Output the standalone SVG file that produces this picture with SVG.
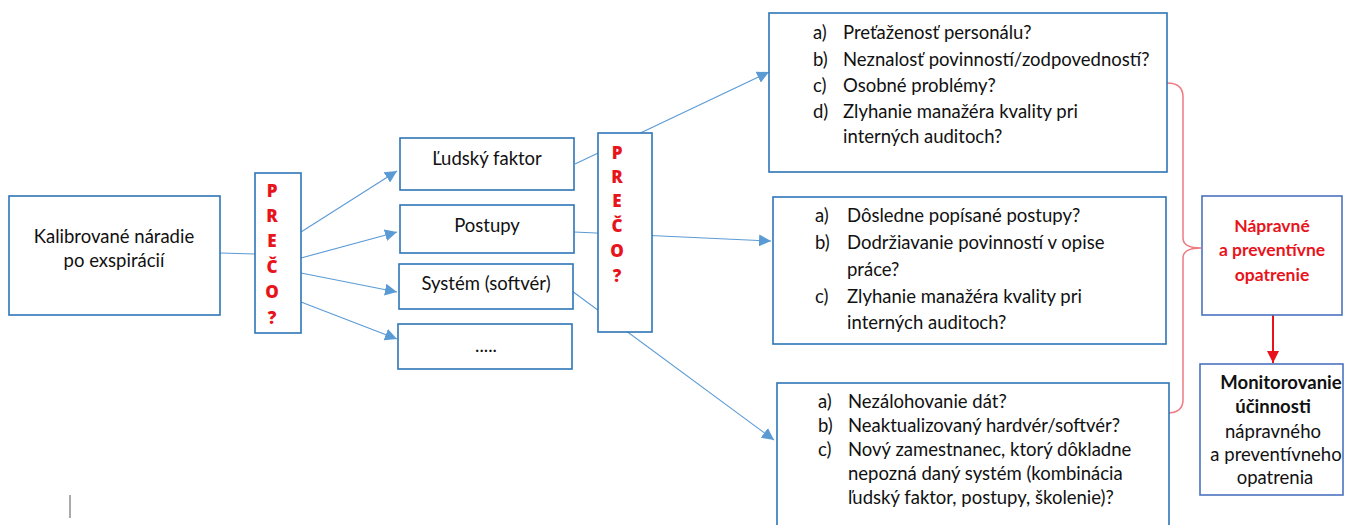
<svg xmlns="http://www.w3.org/2000/svg" width="1355" height="525" viewBox="0 0 1355 525">
<defs>
<style>
.box{fill:#fff;stroke:#2e75b6;stroke-width:1.6}
.box2{fill:#fff;stroke:#4a72c0;stroke-width:1.6}
.t{font-family:Lato,"Liberation Sans",sans-serif;font-size:18.5px;fill:#111}
.c{text-anchor:middle}
.why{font-family:"Open Sans","Liberation Sans",sans-serif;font-size:17px;font-weight:800;fill:#e8141c;text-anchor:middle}
.red{font-family:Lato,"Liberation Sans",sans-serif;font-size:17.5px;font-weight:bold;fill:#e8141c;text-anchor:middle}
.bk{font-weight:bold}
.con{stroke:#5b9bd5;stroke-width:1.1;fill:none}
</style>
<marker id="ab" viewBox="0 0 10 10" refX="10" refY="5" markerWidth="12" markerHeight="12" markerUnits="userSpaceOnUse" orient="auto"><path d="M0,0 L10,5 L0,10 z" fill="#5b9bd5"/></marker>
<marker id="ar" viewBox="0 0 10 10" refX="10" refY="5" markerWidth="12" markerHeight="12" markerUnits="userSpaceOnUse" orient="auto"><path d="M0,0 L10,5 L0,10 z" fill="#e8141c"/></marker>
</defs>
<g id="connectors">
<line class="con" x1="220" y1="253" x2="255" y2="254"/>
<line class="con" x1="301" y1="232" x2="397" y2="171" marker-end="url(#ab)"/>
<line class="con" x1="301" y1="258" x2="397" y2="232" marker-end="url(#ab)"/>
<line class="con" x1="301" y1="273" x2="397" y2="292" marker-end="url(#ab)"/>
<line class="con" x1="301" y1="302" x2="397" y2="339" marker-end="url(#ab)"/>
<line class="con" x1="575" y1="164" x2="769" y2="72" marker-end="url(#ab)"/>
<line class="con" x1="574" y1="232" x2="771" y2="241" marker-end="url(#ab)"/>
<line class="con" x1="572" y1="291" x2="774" y2="440" marker-end="url(#ab)"/>
<path d="M1167,83 Q1183,83 1183,97 L1183,238 Q1183,248 1201,248 Q1183,248 1183,258 L1183,400 Q1183,413 1167,413" fill="none" stroke="#ee7a80" stroke-width="1.5"/>
<line x1="1273" y1="315" x2="1273" y2="363" stroke="#e8141c" stroke-width="2" marker-end="url(#ar)"/>
</g>
<g id="n-start"><rect class="box" x="9" y="196" width="211" height="119"/>
<text class="t c" x="114" y="243">Kalibrované náradie</text>
<text class="t c" x="114" y="267">po exspirácií</text></g>
<g id="n-why1"><rect class="box" x="255" y="173" width="46" height="160"/>
<text class="why" x="272" y="197">P</text><text class="why" x="272" y="222">R</text><text class="why" x="272" y="247">E</text><text class="why" x="272" y="273">Č</text><text class="why" x="272" y="298">O</text><text class="why" x="272" y="324">?</text></g>
<g id="n-human"><rect class="box" x="400" y="138" width="174" height="52"/><text class="t c" x="487" y="165">Ľudský faktor</text></g>
<g id="n-proc"><rect class="box" x="400" y="205" width="174" height="48"/><text class="t c" x="487" y="232">Postupy</text></g>
<g id="n-sys"><rect class="box" x="399" y="264" width="174" height="45"/><text class="t c" x="486" y="290">Systém (softvér)</text></g>
<g id="n-etc"><rect class="box" x="398" y="324" width="174" height="45"/><text class="t c" x="486" y="352">.....</text></g>
<g id="n-why2"><rect class="box" x="598" y="133" width="54" height="199"/>
<text class="why" x="617" y="159">P</text><text class="why" x="617" y="183">R</text><text class="why" x="617" y="207">E</text><text class="why" x="617" y="232">Č</text><text class="why" x="617" y="257">O</text><text class="why" x="617" y="282">?</text></g>
<g id="n-a"><rect class="box" x="769" y="13" width="398" height="159"/>
<text class="t" x="813" y="39">a)</text><text class="t" x="843" y="39">Preťaženosť personálu?</text>
<text class="t" x="813" y="66">b)</text><text class="t" x="843" y="66">Neznalosť povinností/zodpovedností?</text>
<text class="t" x="813" y="92">c)</text><text class="t" x="843" y="92">Osobné problémy?</text>
<text class="t" x="813" y="118">d)</text><text class="t" x="843" y="118">Zlyhanie manažéra kvality pri</text>
<text class="t" x="843" y="143">interných auditoch?</text></g>
<g id="n-b"><rect class="box" x="773" y="197" width="393" height="147"/>
<text class="t" x="815" y="222">a)</text><text class="t" x="847" y="222">Dôsledne popísané postupy?</text>
<text class="t" x="815" y="249">b)</text><text class="t" x="847" y="249">Dodržiavanie povinností v opise</text>
<text class="t" x="847" y="276">práce?</text>
<text class="t" x="815" y="303">c)</text><text class="t" x="847" y="303">Zlyhanie manažéra kvality pri</text>
<text class="t" x="847" y="329">interných auditoch?</text></g>
<g id="n-c"><rect class="box" x="777" y="383" width="392" height="150"/>
<text class="t" x="818" y="408">a)</text><text class="t" x="848" y="408">Nezálohovanie dát?</text>
<text class="t" x="818" y="432">b)</text><text class="t" x="848" y="432">Neaktualizovaný hardvér/softvér?</text>
<text class="t" x="818" y="456">c)</text><text class="t" x="848" y="456">Nový zamestnanec, ktorý dôkladne</text>
<text class="t" x="848" y="480">nepozná daný systém (kombinácia</text>
<text class="t" x="848" y="504">ľudský faktor, postupy, školenie)?</text></g>
<g id="n-fix"><rect class="box2" x="1202" y="196" width="140" height="119"/>
<text class="red" x="1272" y="232">Nápravné</text><text class="red" x="1272" y="256">a preventívne</text><text class="red" x="1272" y="281">opatrenie</text></g>
<g id="n-mon"><rect class="box2" x="1200" y="364" width="143" height="131"/>
<text class="t c bk" x="1281" y="389">Monitorovanie</text><text class="t c bk" x="1273" y="413">účinnosti</text>
<text class="t c" x="1273" y="438">nápravného</text><text class="t c" x="1276" y="461">a preventívneho</text><text class="t c" x="1275" y="484">opatrenia</text></g>
<line x1="70" y1="495" x2="70" y2="518" stroke="#555" stroke-width="1"/>
</svg>
